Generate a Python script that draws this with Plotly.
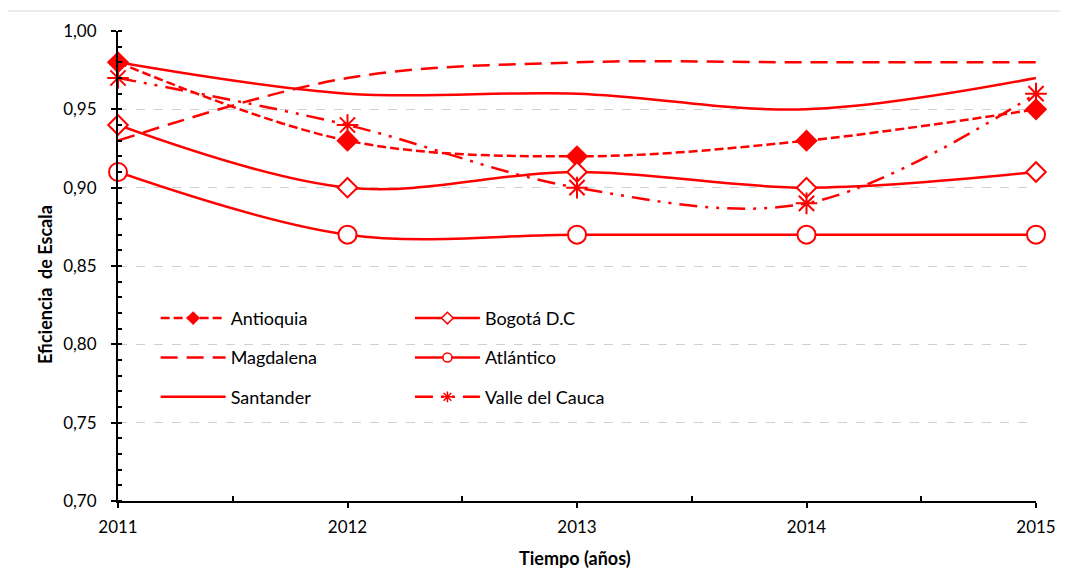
import plotly.graph_objects as go

years = [2011, 2012, 2013, 2014, 2015]
antioquia = [0.98, 0.93, 0.92, 0.93, 0.95]
bogota = [0.94, 0.90, 0.91, 0.90, 0.91]
magdalena = [0.93, 0.97, 0.98, 0.98, 0.98]
atlantico = [0.91, 0.87, 0.87, 0.87, 0.87]
santander = [0.98, 0.96, 0.96, 0.95, 0.97]
valle = [0.97, 0.94, 0.90, 0.89, 0.96]

RED = "#FF0000"
FONT = "Lato"

series = [
    # name, values, dash, marker symbol, marker fill, marker size, legend
    ("Antioquia", antioquia, "9px,4px", "diamond", RED, 15, "legend"),
    ("Bogotá D.C", bogota, "solid", "diamond", "white", 15, "legend2"),
    ("Magdalena", magdalena, "17px,9px", None, None, 0, "legend"),
    ("Atlántico", atlantico, "solid", "circle", "white", 18, "legend2"),
    ("Santander", santander, "solid", None, None, 0, "legend"),
    ("Valle del Cauca", valle, "18px,8px,3px,8px,3px,8px", "asterisk-open", RED, 18, "legend2"),
]

fig = go.Figure()
for name, vals, dash, sym, fill, size, leg in series:
    mode = "lines+markers" if sym else "lines"
    mk = dict(symbol=sym, size=size, color=fill, line=dict(color=RED, width=2)) if sym else None
    fig.add_trace(go.Scatter(
        x=years, y=vals, name=name, mode=mode, cliponaxis=False,
        line=dict(color=RED, width=2.5, dash=dash, shape="spline", smoothing=1),
        marker=mk, showlegend=False,
    ))
    lmk = dict(symbol=sym, size=9, color=fill, line=dict(color=RED, width=1.5)) if sym else None
    fig.add_trace(go.Scatter(
        x=[None], y=[None], name=name, mode=mode,
        line=dict(color=RED, width=2.5, dash=dash),
        marker=lmk, legend=leg, legendgroup=name, showlegend=True,
    ))

legend_common = dict(
    font=dict(family=FONT, size=18, color="#000"),
    bgcolor="rgba(0,0,0,0)", itemwidth=65, tracegroupgap=13,
    yanchor="top", xanchor="left", orientation="v",
)
PH = 472
fig.update_layout(
    width=1068, height=571,
    margin=dict(l=110, r=40, t=21, b=78),
    paper_bgcolor="white", plot_bgcolor="white",
    font=dict(family=FONT, size=18, color="#000"),
    separators=",.",
    legend=dict(x=0.041, y=0.428, **legend_common),
    legend2=dict(x=0.318, y=0.428, **legend_common),
    xaxis=dict(
        range=[2011, 2015], tickvals=years, ticktext=[str(y) for y in years],
        showgrid=False, zeroline=False, showline=True, linecolor="#000", linewidth=2,
        ticks="outside", ticklen=5, tickwidth=1.5, tickcolor="#000",
        minor=dict(tickvals=[2011.5, 2012.5, 2013.5, 2014.5], ticks="inside", ticklen=5,
                   tickwidth=1.5, tickcolor="#000", showgrid=False),
        tickfont=dict(family=FONT, size=17), ticklabelstandoff=5,
    ),
    yaxis=dict(
        range=[0.70, 1.00], dtick=0.05, tick0=0.70, tickformat=".2f",
        showgrid=True, gridcolor="#D0D0D0", griddash="dash", gridwidth=1,
        zeroline=False, showline=True, linecolor="#000", linewidth=2,
        ticks="outside", ticklen=5, tickwidth=1.5, tickcolor="#000",
        minor=dict(dtick=0.01, ticks="inside", ticklen=4, tickwidth=1.5,
                   tickcolor="#000", showgrid=False),
        tickfont=dict(family=FONT, size=17), ticklabelstandoff=11,
    ),
    annotations=[
        dict(text="<b>Eficiencia\u00a0 de Escala</b>", textangle=-90, showarrow=False,
             xref="paper", yref="paper", x=(45 - 118) / 918, y=(501 - 284) / PH,
             xanchor="center", yanchor="middle", font=dict(family=FONT, size=18)),
        dict(text="<b>Tiempo (años)</b>", showarrow=False,
             xref="paper", yref="paper", x=(575 - 118) / 918, y=(501 - 558) / PH,
             xanchor="center", yanchor="middle", font=dict(family=FONT, size=18)),
    ],
    shapes=[dict(type="rect", xref="paper", yref="paper",
                 x0=(-2 - 110) / 918, x1=(1075 - 110) / 918,
                 y0=(493 - 575) / PH, y1=(493 - 1) / PH,
                 line=dict(color="#D9D9D9", width=1), layer="below")],
)

fig.write_html("out.html")
